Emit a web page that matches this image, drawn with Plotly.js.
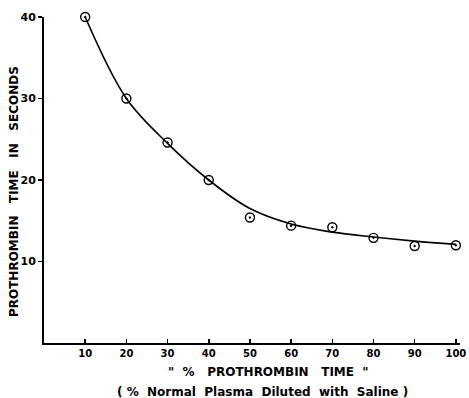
<!DOCTYPE html>
<html><head><meta charset="utf-8">
<script src="https://cdn.plot.ly/plotly-3.0.1.min.js"></script>
<style>html,body{margin:0;padding:0;background:#fff}</style>
</head><body>
<div id="chart" style="width:469px;height:398px"></div>
<script>
// Measured points
const pctPlasma = [10, 20, 30, 40, 50, 60, 70, 80, 90, 100];
const prothrombinTime = [40, 30, 24.6, 20, 15.4, 14.4, 14.2, 12.9, 11.9, 12.0];
// Hand-drawn fitted curve
const curveX = [10, 20, 30, 40, 50, 60, 70, 80, 90, 100];
const curveY = [40, 30, 24.5, 20, 16.5, 14.6, 13.6, 13.0, 12.5, 12.1];
const xTicks = [10, 20, 30, 40, 50, 60, 70, 80, 90, 100];
const yTicks = [10, 20, 30, 40];

const font = 'DejaVu Sans, Arial, sans-serif';
const traces = [
  {x: curveX, y: curveY, mode: 'lines', line: {color: '#000', width: 1.6, shape: 'spline', smoothing: 1.0},
   hoverinfo: 'skip', cliponaxis: false},
  {x: pctPlasma, y: prothrombinTime, mode: 'markers', cliponaxis: false,
   marker: {symbol: 'circle-open-dot', size: 9, color: '#000', line: {color: '#000', width: 1.4}}}
];
const layout = {
  width: 469, height: 398,
  margin: {l: 44, r: 9, t: 17, b: 55},
  paper_bgcolor: '#fff', plot_bgcolor: '#fff',
  showlegend: false,
  font: {family: font, color: '#000', size: 10},
  xaxis: {range: [0, 101], tickvals: xTicks, ticktext: xTicks.map(String),
    showgrid: false, zeroline: false, showline: true, linecolor: '#000', linewidth: 2,
    ticks: 'inside', ticklen: 4, tickwidth: 1.5, tickcolor: '#000',
    tickfont: {family: font, size: 10, weight: 'bold'}},
  yaxis: {range: [0, 40], tickvals: yTicks, ticktext: yTicks.map(String),
    showgrid: false, zeroline: false, showline: true, linecolor: '#000', linewidth: 2,
    ticks: 'outside', ticklen: 4, tickwidth: 1.5, tickcolor: '#000',
    tickfont: {family: font, size: 11, weight: 'bold'}},
  annotations: [
    {text: 'PROTHROMBIN   TIME   IN   SECONDS', textangle: -90, xref: 'paper', yref: 'paper',
     x: 0, xshift: -30, xanchor: 'center', y: 0.463, yanchor: 'middle',
     showarrow: false, font: {family: font, size: 12, weight: 'bold'}},
    {text: '"  %   PROTHROMBIN   TIME  "', xref: 'paper', yref: 'paper', x: 0.54, y: 0, yshift: -29,
     yanchor: 'middle', showarrow: false, font: {family: font, size: 12, weight: 'bold'}},
    {text: '( %  Normal  Plasma  Diluted  with  Saline )', xref: 'paper', yref: 'paper', x: 0.525, y: 0, yshift: -49,
     yanchor: 'middle', showarrow: false, font: {family: font, size: 12, weight: 'bold'}}
  ]
};
Plotly.newPlot('chart', traces, layout, {displayModeBar: false, staticPlot: true});
</script>
</body></html>
